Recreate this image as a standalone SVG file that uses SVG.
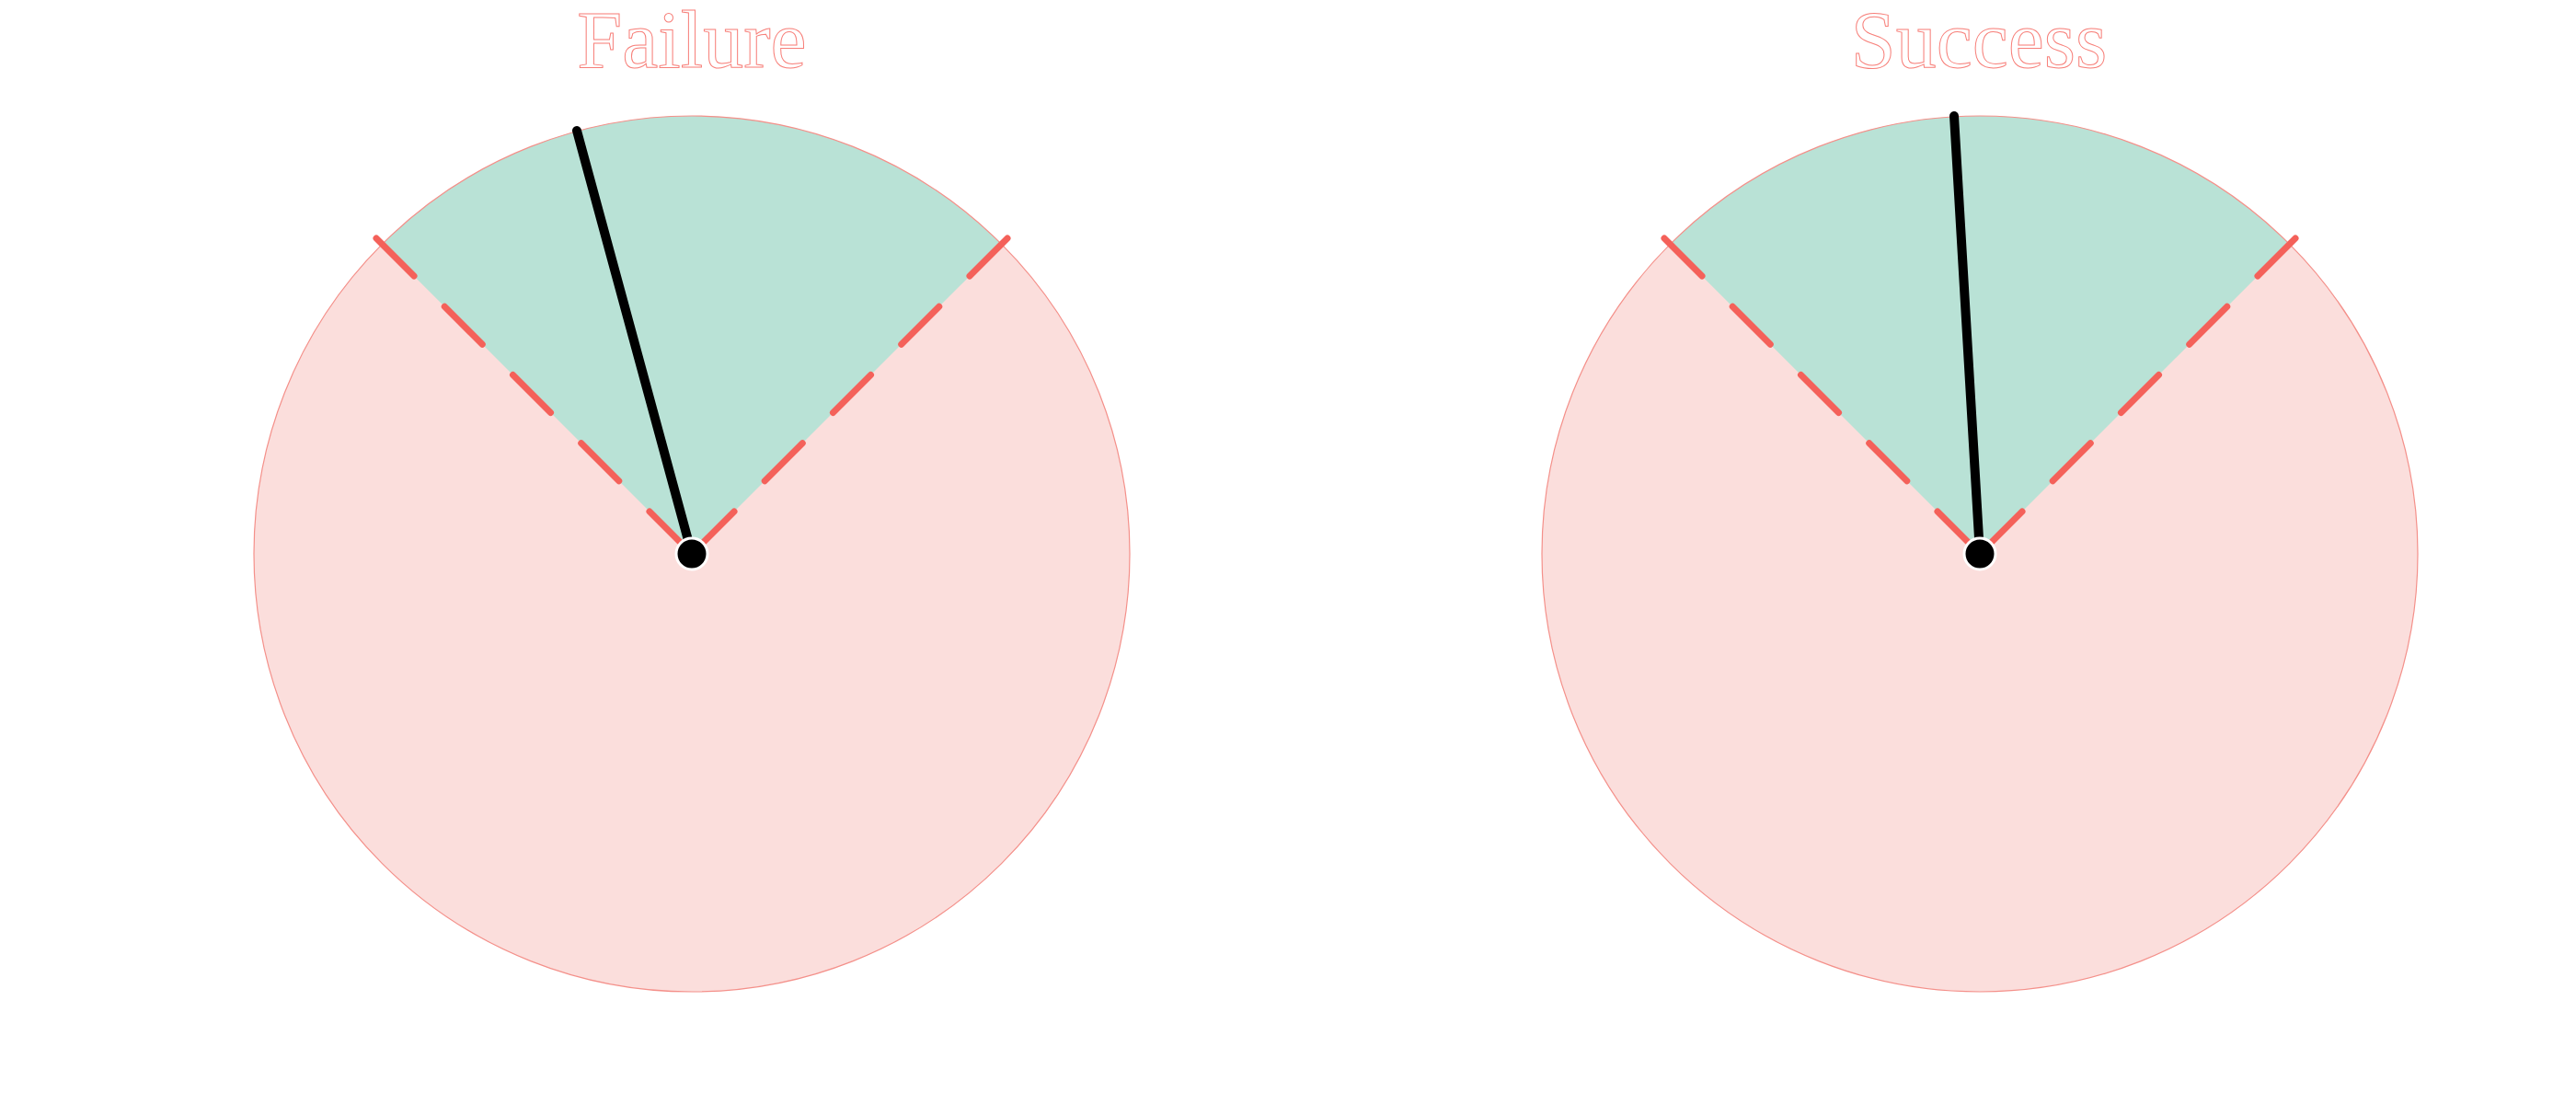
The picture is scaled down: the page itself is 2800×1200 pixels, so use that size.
<svg xmlns="http://www.w3.org/2000/svg" width="2800" height="1200" viewBox="0 0 2800 1200">
<style>
.bg{fill:#FBDEDC;stroke:none}
.rim{fill:none;stroke:#F4908A;stroke-width:1.2}
.zone{fill:#B9E2D6;stroke:none}
.dash{stroke:#F4615A;stroke-width:7;stroke-linecap:round;stroke-dasharray:58 47;fill:none}
.needle{stroke:#000;stroke-width:10;stroke-linecap:round}
.hub{fill:#000;stroke:#fff;stroke-width:3}
.title{font-family:"Liberation Serif",serif;font-size:88px;fill:#fff;stroke:#F77F79;stroke-width:1;text-anchor:middle}
</style>
<rect width="2800" height="1200" fill="#fff"/>
<g id="gauge-failure">
<circle class="bg" cx="752" cy="602" r="476"/>
<path class="zone" d="M752 602 L415.4 265.4 A476 476 0 0 1 1088.6 265.4 Z"/>
<circle class="rim" cx="752" cy="602" r="476"/>
<line class="dash" x1="409" y1="259" x2="752" y2="602"/>
<line class="dash" x1="1095" y1="259" x2="752" y2="602"/>
<line class="needle" x1="752" y1="602" x2="627" y2="142"/>
<circle class="hub" cx="752" cy="602" r="17"/>
<text class="title" x="752" y="73">Failure</text>
</g>
<g id="gauge-success">
<circle class="bg" cx="2152" cy="602" r="476"/>
<path class="zone" d="M2152 602 L1815.4 265.4 A476 476 0 0 1 2488.6 265.4 Z"/>
<circle class="rim" cx="2152" cy="602" r="476"/>
<line class="dash" x1="1809" y1="259" x2="2152" y2="602"/>
<line class="dash" x1="2495" y1="259" x2="2152" y2="602"/>
<line class="needle" x1="2152" y1="602" x2="2124" y2="126"/>
<circle class="hub" cx="2152" cy="602" r="17"/>
<text class="title" x="2151" y="73">Success</text>
</g>
<g id="connectors"></g>
</svg>
